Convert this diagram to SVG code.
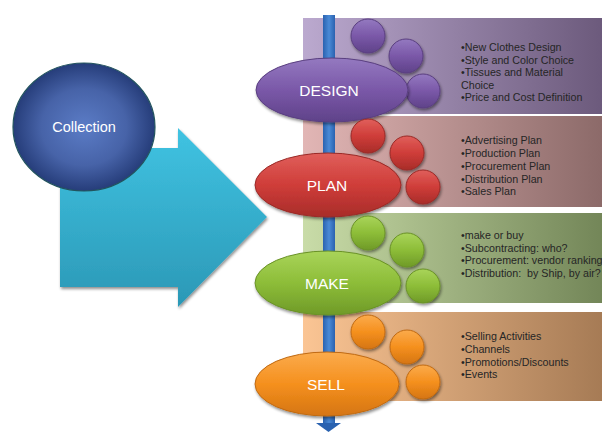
<svg xmlns="http://www.w3.org/2000/svg" width="602" height="432" viewBox="0 0 602 432">
  <defs>
    <linearGradient id="panelDesign" x1="0" y1="0" x2="1" y2="0">
      <stop offset="0" stop-color="#bba9cf"/>
      <stop offset="1" stop-color="#6c5a7c"/>
    </linearGradient>
    <linearGradient id="panelPlan" x1="0" y1="0" x2="1" y2="0">
      <stop offset="0" stop-color="#e2b6b5"/>
      <stop offset="1" stop-color="#8c6a69"/>
    </linearGradient>
    <linearGradient id="panelMake" x1="0" y1="0" x2="1" y2="0">
      <stop offset="0" stop-color="#c9dca8"/>
      <stop offset="1" stop-color="#738658"/>
    </linearGradient>
    <linearGradient id="panelSell" x1="0" y1="0" x2="1" y2="0">
      <stop offset="0" stop-color="#fbc594"/>
      <stop offset="1" stop-color="#a67b55"/>
    </linearGradient>
    <linearGradient id="gPurple" x1="0" y1="0" x2="0" y2="1">
      <stop offset="0" stop-color="#9479c0"/>
      <stop offset="0.5" stop-color="#7a58a8"/>
      <stop offset="1" stop-color="#5f4289"/>
    </linearGradient>
    <linearGradient id="gRed" x1="0" y1="0" x2="0" y2="1">
      <stop offset="0" stop-color="#e05f5b"/>
      <stop offset="0.5" stop-color="#cf3d39"/>
      <stop offset="1" stop-color="#a82c29"/>
    </linearGradient>
    <linearGradient id="gGreen" x1="0" y1="0" x2="0" y2="1">
      <stop offset="0" stop-color="#a9d45a"/>
      <stop offset="0.5" stop-color="#8dbd38"/>
      <stop offset="1" stop-color="#6f9a28"/>
    </linearGradient>
    <linearGradient id="gOrange" x1="0" y1="0" x2="0" y2="1">
      <stop offset="0" stop-color="#fbab4c"/>
      <stop offset="0.5" stop-color="#f5901e"/>
      <stop offset="1" stop-color="#d57512"/>
    </linearGradient>
    <radialGradient id="gCollection" cx="0.5" cy="0.5" r="0.5">
      <stop offset="0" stop-color="#5b7cc6"/>
      <stop offset="0.6" stop-color="#4763a8"/>
      <stop offset="1" stop-color="#263d7a"/>
    </radialGradient>
    <linearGradient id="gArrow" x1="0" y1="0" x2="0" y2="1">
      <stop offset="0" stop-color="#40c3e2"/>
      <stop offset="1" stop-color="#2b98b6"/>
    </linearGradient>
    <linearGradient id="gBar" x1="0" y1="0" x2="1" y2="0">
      <stop offset="0" stop-color="#2a62b0"/>
      <stop offset="0.5" stop-color="#4a8ad6"/>
      <stop offset="1" stop-color="#2a62b0"/>
    </linearGradient>
    <filter id="shadow" x="-20%" y="-20%" width="140%" height="150%">
      <feGaussianBlur in="SourceAlpha" stdDeviation="1.5"/>
      <feOffset dx="1" dy="2" result="b"/>
      <feComponentTransfer><feFuncA type="linear" slope="0.45"/></feComponentTransfer>
      <feMerge><feMergeNode/><feMergeNode in="SourceGraphic"/></feMerge>
    </filter>
  </defs>
  <style>
    .label { font-family: "Liberation Sans", Arial, sans-serif; fill: #ffffff; text-anchor: middle; }
    .stage { font-size: 15.5px; }
    .list { font-family: "Liberation Sans", Arial, sans-serif; font-size: 10.7px; fill: #262626; }
    .dot { stroke-width: 1; filter: url(#shadow); }
  </style>

  <rect width="602" height="432" fill="#ffffff"/>

  <!-- detail panels -->
  <rect x="303" y="18" width="299" height="96" fill="url(#panelDesign)"/>
  <rect x="303" y="116" width="299" height="91" fill="url(#panelPlan)"/>
  <rect x="303" y="213" width="299" height="90" fill="url(#panelMake)"/>
  <rect x="303" y="312" width="299" height="89" fill="url(#panelSell)"/>

  <!-- connectors: main flow arrow and timeline spine -->
  <g id="connectors">
    <path d="M60,148 H178 V128 L267,217 L178,307 V287 H60 Z" fill="url(#gArrow)" filter="url(#shadow)"/>
    <rect x="323" y="15" width="12" height="410" fill="url(#gBar)"/>
    <path d="M316,423 H341 L328.5,432 Z" fill="#2a62b0"/>
  </g>

  <g id="collection">
    <ellipse cx="84" cy="127" rx="71" ry="64" fill="url(#gCollection)" stroke="#22545e" stroke-width="1.2"/>
    <text class="label" x="84" y="132" font-size="14.5">Collection</text>
  </g>

  <g id="design">
    <circle class="dot" cx="368" cy="36" r="17" fill="url(#gPurple)" stroke="#5a3f80"/>
    <circle class="dot" cx="406" cy="56" r="17" fill="url(#gPurple)" stroke="#5a3f80"/>
    <circle class="dot" cx="423" cy="91" r="17" fill="url(#gPurple)" stroke="#5a3f80"/>
    <ellipse cx="332" cy="90" rx="76" ry="32" fill="url(#gPurple)" stroke="#5a3f80" filter="url(#shadow)"/>
    <text class="label stage" x="329" y="96">DESIGN</text>
    <text class="list">
      <tspan x="461" y="51">•New Clothes Design</tspan>
      <tspan x="461" y="63.5">•Style and Color Choice</tspan>
      <tspan x="461" y="76">•Tissues and Material</tspan>
      <tspan x="461" y="88.5">Choice</tspan>
      <tspan x="461" y="101">•Price and Cost Definition</tspan>
    </text>
  </g>

  <g id="plan">
    <circle class="dot" cx="368" cy="136" r="17" fill="url(#gRed)" stroke="#9a2a27"/>
    <circle class="dot" cx="407" cy="153" r="17" fill="url(#gRed)" stroke="#9a2a27"/>
    <circle class="dot" cx="423" cy="187" r="17" fill="url(#gRed)" stroke="#9a2a27"/>
    <ellipse cx="328" cy="185" rx="73" ry="32" fill="url(#gRed)" stroke="#9a2a27" filter="url(#shadow)"/>
    <text class="label stage" x="327" y="191">PLAN</text>
    <text class="list">
      <tspan x="461" y="144">•Advertising Plan</tspan>
      <tspan x="461" y="157">•Production Plan</tspan>
      <tspan x="461" y="170">•Procurement Plan</tspan>
      <tspan x="461" y="183">•Distribution Plan</tspan>
      <tspan x="461" y="195">•Sales Plan</tspan>
    </text>
  </g>

  <g id="make">
    <circle class="dot" cx="368" cy="233" r="17" fill="url(#gGreen)" stroke="#6a9227"/>
    <circle class="dot" cx="407" cy="250" r="17" fill="url(#gGreen)" stroke="#6a9227"/>
    <circle class="dot" cx="423" cy="286" r="17" fill="url(#gGreen)" stroke="#6a9227"/>
    <ellipse cx="328" cy="283" rx="73" ry="32" fill="url(#gGreen)" stroke="#6a9227" filter="url(#shadow)"/>
    <text class="label stage" x="327" y="289">MAKE</text>
    <text class="list">
      <tspan x="461" y="239">•make or buy</tspan>
      <tspan x="461" y="252">•Subcontracting: who?</tspan>
      <tspan x="461" y="264">•Procurement: vendor ranking</tspan>
      <tspan x="461" y="277" xml:space="preserve">•Distribution:  by Ship, by air?</tspan>
    </text>
  </g>

  <g id="sell">
    <circle class="dot" cx="368" cy="332" r="17" fill="url(#gOrange)" stroke="#c06a12"/>
    <circle class="dot" cx="407" cy="347" r="17" fill="url(#gOrange)" stroke="#c06a12"/>
    <circle class="dot" cx="423" cy="382" r="17" fill="url(#gOrange)" stroke="#c06a12"/>
    <ellipse cx="327" cy="384" rx="72" ry="32" fill="url(#gOrange)" stroke="#c06a12" filter="url(#shadow)"/>
    <text class="label stage" x="326" y="390">SELL</text>
    <text class="list">
      <tspan x="461" y="340">•Selling Activities</tspan>
      <tspan x="461" y="353">•Channels</tspan>
      <tspan x="461" y="366">•Promotions/Discounts</tspan>
      <tspan x="461" y="378">•Events</tspan>
    </text>
  </g>
</svg>
